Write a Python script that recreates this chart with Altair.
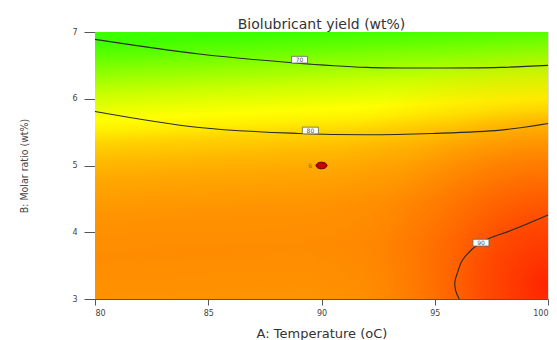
import altair as alt
import pandas as pd

# ---- data ----
a_domain = [80, 100]
b_domain = [3, 7]
a_ticks = [80, 85, 90, 95, 100]
b_ticks = [3, 4, 5, 6, 7]

c70_a = [80.0, 84.6, 88.7, 92.0, 94.9, 97.9, 100.0]
c70_b = [6.89, 6.67, 6.54, 6.47, 6.46, 6.47, 6.50]
c80_a = [80.0, 84.6, 89.0, 92.0, 94.9, 97.9, 100.0]
c80_b = [5.81, 5.57, 5.48, 5.46, 5.48, 5.53, 5.63]
c90_a = [96.08, 95.92, 95.89, 96.02, 96.22, 97.0, 98.47, 100.0]
c90_b = [3.0, 3.13, 3.26, 3.41, 3.58, 3.84, 4.04, 4.26]

label_text = ["70", "80", "90"]
label_a = [89.03, 89.51, 97.04]
label_b = [6.585, 5.524, 3.844]

design_a = [90.0]
design_b = [5.0]
count_text = ["6"]
count_a = [89.5]
count_b = [5.0]

# ---- tables ----
bg_df = pd.DataFrame({"a": [a_domain[0]], "a2": [a_domain[1]],
                      "b": [b_domain[0]], "b2": [b_domain[1]]})

rows = []
for lvl, xs, ys in (("70", c70_a, c70_b), ("80", c80_a, c80_b), ("90", c90_a, c90_b)):
    for i, (x, y) in enumerate(zip(xs, ys)):
        rows.append({"level": lvl, "i": i, "a": x, "b": y})
contour_df = pd.DataFrame(rows)
label_df = pd.DataFrame({"text": label_text, "a": label_a, "b": label_b})
design_df = pd.DataFrame({"a": design_a, "b": design_b})
count_df = pd.DataFrame({"text": count_text, "a": count_a, "b": count_b})

narrow = "'Liberation Sans Narrow', 'Arial Narrow', 'DejaVu Sans Condensed', 'Roboto Condensed', 'Liberation Sans', sans-serif"

xscale = alt.Scale(domain=a_domain, nice=False, zero=False)
yscale = alt.Scale(domain=b_domain, nice=False, zero=False)

xaxis = alt.Axis(values=a_ticks, title="A: Temperature (oC)", grid=False,
                 domainColor="#555", tickColor="#555", tickSize=6,
                 labelPadding=4, labelFont="DejaVu Sans", labelFontSize=8,
                 labelColor="#444", titleFont="DejaVu Sans", titleFontSize=13,
                 titleFontWeight="normal", titleColor="#333",
                 titleBaseline="alphabetic", titleY=38)
yaxis = alt.Axis(values=b_ticks, title="B: Molar ratio (wt%)", grid=False,
                 domainColor="#555", tickColor="#555", tickSize=11,
                 labelPadding=7, labelFont="DejaVu Sans", labelFontSize=8,
                 labelColor="#444", titleFont=narrow,
                 titleFontSize=10.5, titleFontWeight="normal", titleColor="#444",
                 titleBaseline="alphabetic", titleX=-68)

base_stops = [
    (0.00, "#3cff00"), (0.05, "#5cff00"), (0.13, "#99ff00"), (0.20, "#ccff00"),
    (0.29, "#ffff00"), (0.33, "#fff000"), (0.38, "#ffd200"), (0.45, "#ffb800"),
    (0.52, "#ffa600"), (0.65, "#ff9300"), (0.80, "#ff8c00"), (1.00, "#ff9400"),
]
lin = alt.LinearGradient(
    gradient="linear",
    stops=[alt.GradientStop(offset=o, color=c) for o, c in base_stops],
    x1=0.46, y1=0, x2=0.54, y2=1,
)
red_stops = [
    (0.0, "rgba(255,35,0,1)"), (0.25, "rgba(255,55,0,0.8)"),
    (0.5, "rgba(255,80,0,0.45)"), (0.75, "rgba(255,110,0,0.15)"),
    (1.0, "rgba(255,130,0,0)"),
]
rad = alt.RadialGradient(
    gradient="radial",
    stops=[alt.GradientStop(offset=o, color=c) for o, c in red_stops],
    x1=1, y1=0.766, r1=0, x2=1, y2=0.766, r2=0.55,
)

enc_bg = dict(
    x=alt.X("a:Q", scale=xscale, axis=xaxis),
    x2="a2",
    y=alt.Y("b:Q", scale=yscale, axis=yaxis),
    y2="b2",
)
bg = alt.Chart(bg_df).mark_rect(color=lin).encode(**enc_bg)
red = alt.Chart(bg_df).mark_rect(color=rad).encode(**enc_bg)

lines = alt.Chart(contour_df).mark_line(
    color="#2a2a2a", strokeWidth=1.1, interpolate="catmull-rom"
).encode(
    x=alt.X("a:Q", scale=xscale, axis=xaxis),
    y=alt.Y("b:Q", scale=yscale, axis=yaxis),
    detail="level:N",
    order="i:Q",
)

box_path = "M-1,-0.42L1,-0.42L1,0.42L-1,0.42Z"
boxes = alt.Chart(label_df).mark_point(
    shape=box_path, size=256, filled=True, fill="white", stroke="#666",
    strokeWidth=0.8, opacity=1
).encode(
    x=alt.X("a:Q", scale=xscale, axis=xaxis),
    y=alt.Y("b:Q", scale=yscale, axis=yaxis),
)
box_text = alt.Chart(label_df).mark_text(
    font="DejaVu Sans", fontSize=6, color="#555", baseline="middle", align="center"
).encode(
    x=alt.X("a:Q", scale=xscale, axis=xaxis),
    y=alt.Y("b:Q", scale=yscale, axis=yaxis),
    text="text:N",
)

ellipse = "M-1,0A1,0.6,0,1,0,1,0A1,0.6,0,1,0,-1,0Z"
dot = alt.Chart(design_df).mark_point(
    shape=ellipse, size=121, filled=True, fill="#c80000", stroke="#5a0000",
    strokeWidth=1, opacity=1
).encode(
    x=alt.X("a:Q", scale=xscale, axis=xaxis),
    y=alt.Y("b:Q", scale=yscale, axis=yaxis),
)
count = alt.Chart(count_df).mark_text(
    font="DejaVu Sans", fontSize=6, color="#8a6d00", baseline="middle", align="center"
).encode(
    x=alt.X("a:Q", scale=xscale, axis=xaxis),
    y=alt.Y("b:Q", scale=yscale, axis=yaxis),
    text="text:N",
)

chart = alt.layer(bg, red, lines, boxes, box_text, count, dot).properties(
    width=453,
    height=267,
    title=alt.TitleParams(
        "Biolubricant yield (wt%)", font="DejaVu Sans", fontSize=14,
        fontWeight="normal", color="#333", anchor="middle", frame="group",
        baseline="alphabetic", offset=4, dy=19,
    ),
    autosize=alt.AutoSizeParams(type="none"),
    padding={"left": 95, "top": 32, "right": 9, "bottom": 41},
).configure_view(stroke="#999", strokeWidth=1).configure(background="white")

chart.save("out.html", embed_options={"renderer": "svg", "actions": False})
